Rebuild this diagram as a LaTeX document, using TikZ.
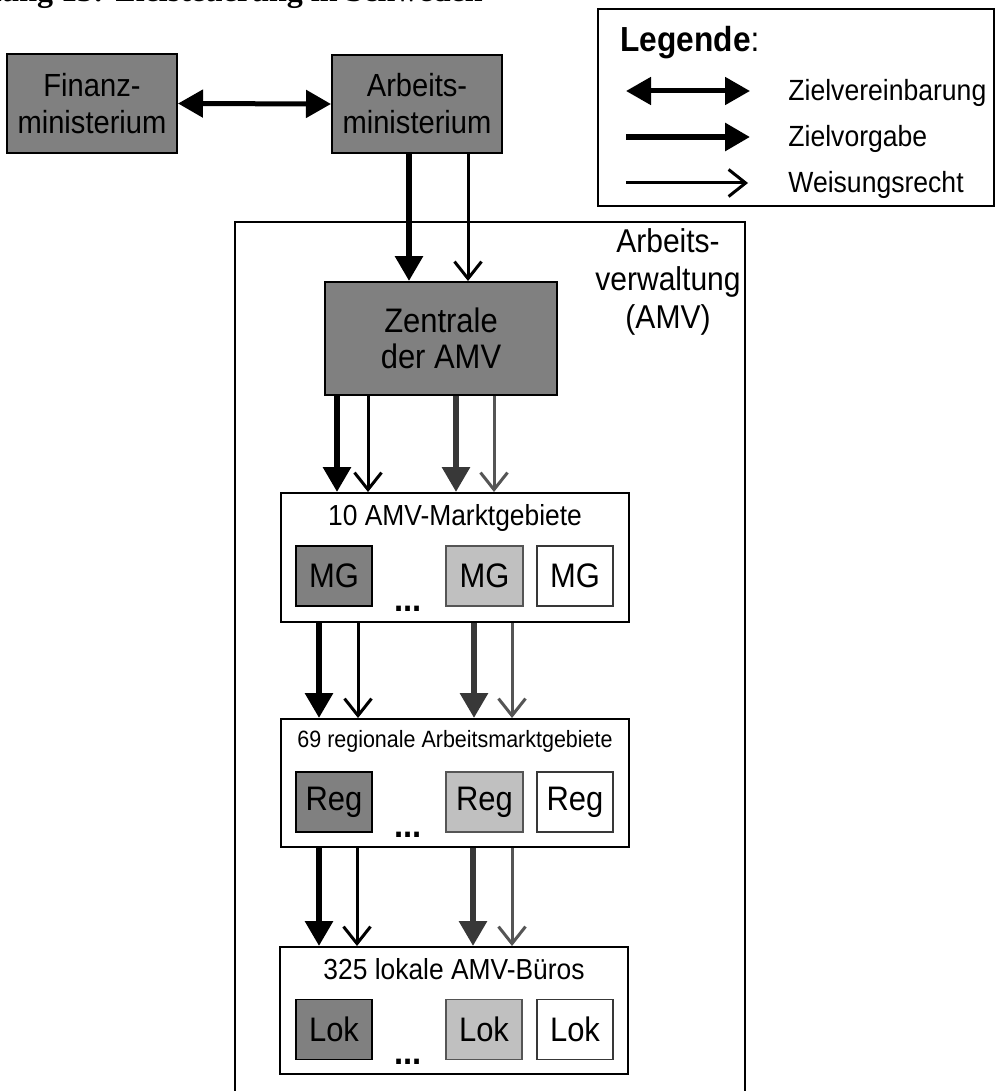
\documentclass[tikz,border=0pt]{standalone}
\usepackage{fontspec}
\setmainfont{Liberation Sans}[FakeStretch=0.91]
\newfontfamily\titlefont{Liberation Serif}
\usetikzlibrary{arrows.meta}
\definecolor{dgray}{HTML}{808080}
\definecolor{lgray}{HTML}{C0C0C0}
\definecolor{agray}{HTML}{383838}
\definecolor{tgray}{HTML}{555555}
\newcommand\fsz[2]{\fontsize{#1}{#2}\selectfont}
\tikzset{
  gbox/.style={draw, line width=1pt, fill=dgray, align=center, inner sep=0pt},
  cont/.style={draw, line width=1pt, fill=white, inner sep=0pt},
  ibox/.style={draw, line width=0.8pt, inner sep=0pt, minimum height=30pt, font=\fsz{17}{18}},
  zv/.style={line width=3pt, -{Triangle[length=12.5pt,width=13.5pt]}},
  wr/.style={line width=1.5pt, -{Straight Barb[length=8.5pt,width=13.5pt]}},
  za/.style={line width=2.5pt, {Triangle[length=12.5pt,width=13.5pt]}-{Triangle[length=12.5pt,width=13.5pt]}},
  dots/.style={anchor=base, font=\bfseries\fsz{18}{18}, inner sep=0pt},
  ctitle/.style={anchor=base, inner sep=0pt}
}
\begin{document}
\begin{tikzpicture}[x=0.5pt,y=-0.5pt]
\useasboundingbox (0,0) rectangle (995,1091);
% title (cut off at top)
\node[anchor=base east, inner sep=0pt, font=\titlefont\bfseries\fsz{16}{16}] (title) at (483,2) {Abbildung 13: Zielsteuerung in Schweden};

% legend
\node[draw, line width=0.8pt, anchor=north west, minimum width=198pt, minimum height=98.5pt, inner sep=0pt] (leg) at (597,8) {};
\node[anchor=base west, inner sep=0pt, font=\fsz{17.4}{18}] (legt) at (620,52) {\textbf{Legende}:};
\coordinate (l1a) at (626,91); \coordinate (l1b) at (750,91);
\coordinate (l2a) at (626,137); \coordinate (l2b) at (750,137);
\coordinate (l3a) at (626,183); \coordinate (l3b) at (748,183);
\draw[za] (l1a) -- (l1b);
\draw[zv] (l2a) -- (l2b);
\draw[wr] (l3a) -- (l3b);
\node[anchor=base west, inner sep=0pt, font=\fsz{14.6}{15}] (lz1) at (788,101) {Zielvereinbarung};
\node[anchor=base west, inner sep=0pt, font=\fsz{14.6}{15}] (lz2) at (788,147) {Zielvorgabe};
\node[anchor=base west, inner sep=0pt, font=\fsz{14.6}{15}] (lz3) at (788,193) {Weisungsrecht};

% ministries
\node[gbox, minimum width=85pt, minimum height=49.5pt, font=\fsz{16}{18.5}] (fin) at (92,103.5) {Finanz-\\ministerium};
\node[gbox, minimum width=85pt, minimum height=49pt, font=\fsz{16}{18.5}] (arb) at (417,104) {Arbeits-\\ministerium};
\draw[za] (fin.east) -- (arb.west);

% outer AMV frame
\draw[line width=0.75pt] (235,1100) |- (745,222) -- (745,1100);
\node[align=center, inner sep=0pt, font=\fsz{16.5}{19}, anchor=base] (amvl) at (668,328) {Arbeits-\\verwaltung\\(AMV)};

% Zentrale
\node[gbox, minimum width=116pt, minimum height=56.5pt, font=\fsz{17}{18}] (zen) at (441,338.5) {Zentrale\\der AMV};
\coordinate (x1) at (409,0); \coordinate (x2) at (468,0);
\draw[zv] (arb.south -| x1) -- (zen.north -| x1);
\draw[wr] (arb.south -| x2) -- (zen.north -| x2);

% level 1: Marktgebiete
\node[cont, minimum width=174pt, minimum height=64.5pt] (mg) at (455,557.5) {};
\node[ctitle, font=\fsz{14.5}{15}] (mgt) at (455,525) {10 AMV-Marktgebiete};
\node[ibox, fill=dgray, minimum width=38pt] (mg1) at (334,576) {MG};
\node[ibox, fill=lgray, draw=tgray, minimum width=38.5pt] (mg2) at (484.5,576) {MG};
\node[ibox, fill=white, draw=agray, minimum width=38pt] (mg3) at (575,576) {MG};
\node[dots] (mgd) at (408,611) {...};

\coordinate (a1) at (337,0); \coordinate (a2) at (368,0);
\coordinate (a3) at (456,0); \coordinate (a4) at (494,0);
\draw[zv] (zen.south -| a1) -- (mg.north -| a1);
\draw[wr] (zen.south -| a2) -- (mg.north -| a2);
\draw[zv, agray] (zen.south -| a3) -- (mg.north -| a3);
\draw[wr, tgray] (zen.south -| a4) -- (mg.north -| a4);

% level 2: regionale
\node[cont, minimum width=174pt, minimum height=64pt] (reg) at (455,783) {};
\node[ctitle, font=\fsz{11.8}{13}] (regt) at (455,747) {69 regionale Arbeitsmarktgebiete};
\node[ibox, fill=dgray, minimum width=38pt] (rg1) at (334,802) {Reg};
\node[ibox, fill=lgray, draw=tgray, minimum width=38.5pt] (rg2) at (484.5,802) {Reg};
\node[ibox, fill=white, draw=agray, minimum width=38pt] (rg3) at (575,802) {Reg};
\node[dots] (rgd) at (408,837) {...};

\coordinate (b1) at (319,0); \coordinate (b2) at (358,0);
\coordinate (b3) at (474,0); \coordinate (b4) at (512,0);
\draw[zv] (mg.south -| b1) -- (reg.north -| b1);
\draw[wr] (mg.south -| b2) -- (reg.north -| b2);
\draw[zv, agray] (mg.south -| b3) -- (reg.north -| b3);
\draw[wr, tgray] (mg.south -| b4) -- (reg.north -| b4);

% level 3: lokale
\node[cont, minimum width=174pt, minimum height=63.5pt] (lok) at (454,1010.5) {};
\node[ctitle, font=\fsz{14.5}{15}] (lokt) at (454,979) {325 lokale AMV-Büros};
\node[ibox, fill=dgray, minimum width=38pt] (lk1) at (334,1029.5) {Lok};
\node[ibox, fill=lgray, draw=tgray, minimum width=38pt] (lk2) at (484,1029.5) {Lok};
\node[ibox, fill=white, draw=agray, minimum width=38pt] (lk3) at (575,1029.5) {Lok};
\node[dots] (lkd) at (408,1064) {...};

\coordinate (c1) at (319,0); \coordinate (c2) at (357,0);
\coordinate (c3) at (473,0); \coordinate (c4) at (512,0);
\draw[zv] (reg.south -| c1) -- (lok.north -| c1);
\draw[wr] (reg.south -| c2) -- (lok.north -| c2);
\draw[zv, agray] (reg.south -| c3) -- (lok.north -| c3);
\draw[wr, tgray] (reg.south -| c4) -- (lok.north -| c4);
\end{tikzpicture}
\end{document}
